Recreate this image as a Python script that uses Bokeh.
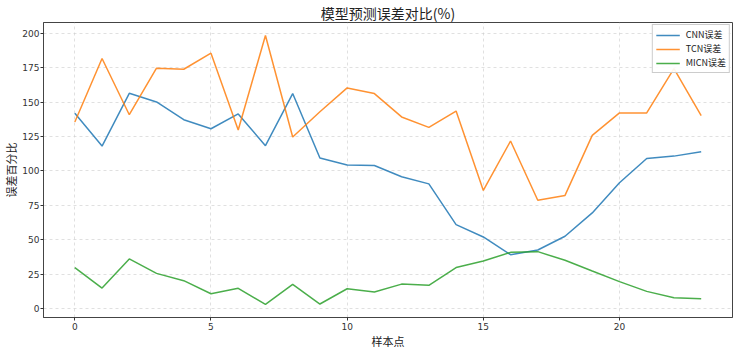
from bokeh.plotting import figure
from bokeh.models import Range1d, FixedTicker, Legend, LegendItem
from bokeh.embed import file_html
from bokeh.resources import INLINE

x = list(range(24))
cnn = [142.0, 118.1, 156.5, 150.2, 137.3, 130.7, 141.5, 118.4, 156.3, 109.4, 104.3, 104.0,
       95.8, 90.6, 61.0, 52.0, 39.1, 42.5, 52.5, 69.5, 91.4, 109.1, 110.8, 114.0]
tcn = [135.6, 181.8, 140.9, 174.8, 174.0, 185.7, 129.8, 198.5, 124.7, 143.1, 160.4, 156.3,
       139.3, 131.7, 143.6, 85.8, 121.8, 78.7, 82.2, 125.9, 142.2, 142.2, 174.5, 140.2]
micn = [29.7, 14.8, 36.0, 25.5, 20.2, 10.7, 14.6, 2.9, 17.5, 3.2, 14.3, 11.9,
        17.7, 16.8, 29.7, 34.5, 40.8, 41.3, 35.0, 27.2, 19.5, 12.4, 7.8, 7.1]
names = ["CNN误差", "TCN误差", "MICN误差"]
colors = ["#1f77b4", "#ff7f0e", "#2ca02c"]
xticks = [0, 5, 10, 15, 20]
yticks = [0, 25, 50, 75, 100, 125, 150, 175, 200]

CJK = "Noto Sans CJK SC"

p = figure(width=739, height=351, output_backend="svg", toolbar_location=None,
           x_range=Range1d(-1.15, 24.15), y_range=Range1d(-6.6, 208.0),
           min_border_left=30, min_border_right=7, min_border_top=20, min_border_bottom=30)
p.title.text = "模型预测误差对比(%)"
p.title.align = "center"
p.title.text_font = CJK
p.title.text_font_size = "14px"
p.title.text_font_style = "normal"
p.title.text_color = "#222222"
p.title.offset = 0
p.title.standoff = 0

renderers = []
for ys, c in zip([cnn, tcn, micn], colors):
    r = p.line(x, ys, line_color=c, line_width=1.5, line_alpha=0.85)
    renderers.append(r)

legend = Legend(items=[LegendItem(label=n, renderers=[r]) for n, r in zip(names, renderers)],
                location="top_right")
legend.label_text_font = CJK
legend.label_text_font_size = "9px"
legend.label_text_color = "#222222"
legend.glyph_width = 24
legend.glyph_height = 10
legend.label_standoff = 6
legend.spacing = 1
legend.padding = 3
legend.margin = 2
legend.label_height = 10
legend.border_line_color = "#cccccc"
legend.border_line_alpha = 1.0
legend.background_fill_alpha = 0.9
p.add_layout(legend)

p.xaxis.ticker = FixedTicker(ticks=xticks)
p.yaxis.ticker = FixedTicker(ticks=yticks)
for ax in (p.xaxis[0], p.yaxis[0]):
    ax.major_label_text_font = "DejaVu Sans"
    ax.major_label_text_font_size = "9px"
    ax.major_label_text_color = "#333333"
    ax.minor_tick_line_color = None
    ax.major_tick_out = 3
    ax.major_tick_in = 0
    ax.major_tick_line_color = "#333333"
    ax.axis_line_color = "#444444"
    ax.axis_label_text_font = CJK
    ax.axis_label_text_font_size = "11px"
    ax.axis_label_text_font_style = "normal"
    ax.axis_label_text_color = "#222222"
    ax.axis_label_standoff = 0
p.xaxis.axis_label = "样本点"
p.yaxis.axis_label = "误差百分比"
p.yaxis.major_label_standoff = 1
p.xaxis.major_label_standoff = 2

p.outline_line_color = "#444444"
p.outline_line_width = 1
p.xgrid.grid_line_color = "#cccccc"
p.ygrid.grid_line_color = "#cccccc"
p.xgrid.grid_line_dash = "3 3"
p.ygrid.grid_line_dash = "3 3"
p.xgrid.grid_line_alpha = 0.6
p.ygrid.grid_line_alpha = 0.6
p.background_fill_color = "white"
p.border_fill_color = "white"

open("out.html", "w").write(file_html(p, INLINE))
